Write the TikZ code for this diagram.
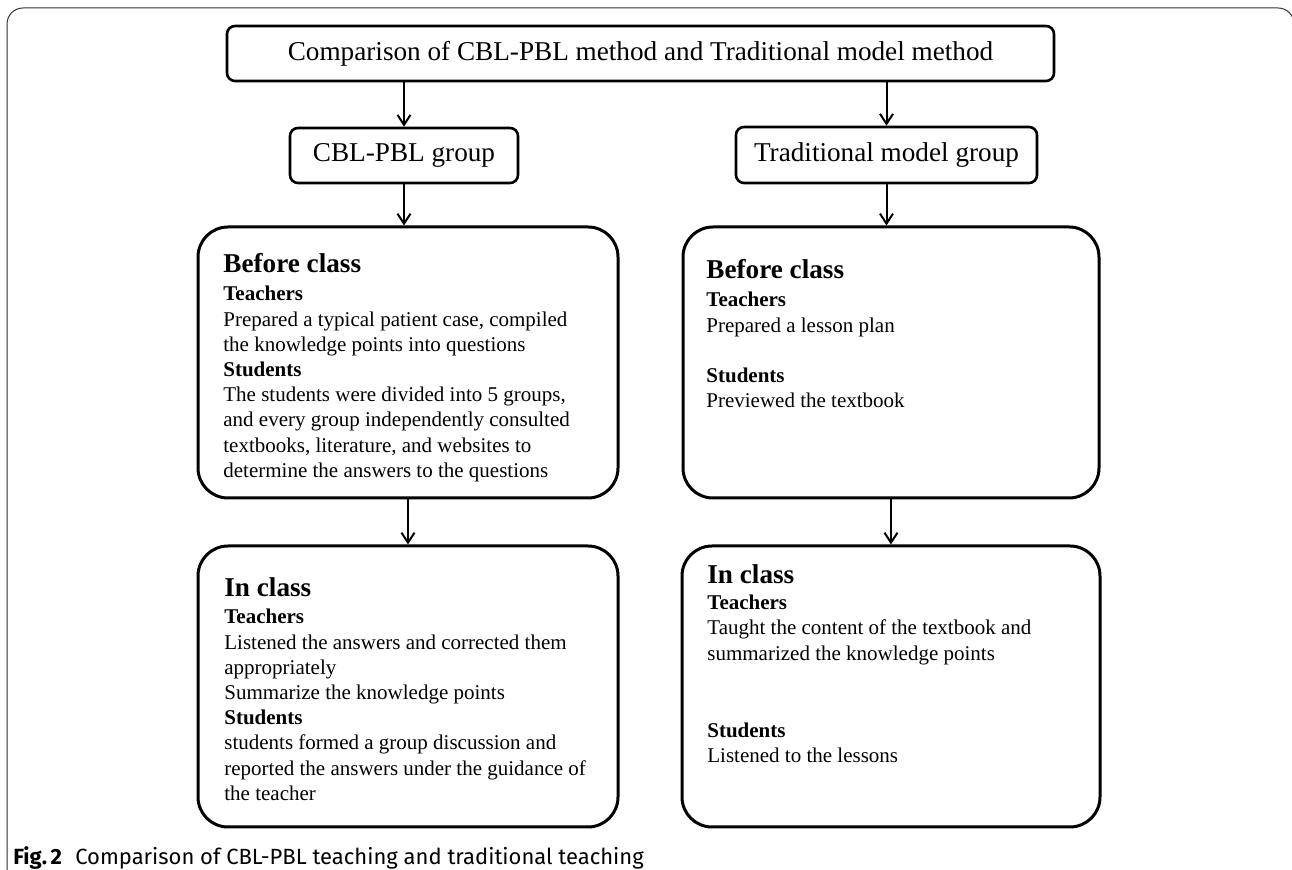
\documentclass[tikz,border=0pt]{standalone}
\usepackage{fontspec}
\setmainfont{Liberation Serif}
\newfontfamily\capfont{Fira Sans}
\usetikzlibrary{arrows.meta}

\newcommand{\bodyfont}{\fontsize{10.5}{12.6}\selectfont}
\newcommand{\phase}[1]{{\fontsize{13.6}{14}\selectfont\bfseries #1}}

\begin{document}
\begin{tikzpicture}[
  x=0.5pt, y=-0.5pt,
  headbox/.style={draw, line width=1.3pt, rounded corners=4pt, inner sep=0pt,
    font=\fontsize{13.6}{16}\selectfont},
  stagebox/.style={draw, line width=1.5pt, rounded corners=15pt, inner sep=0pt},
  body/.style={anchor=north west, align=left, inner sep=0pt, font=\bodyfont},
  arrow/.style={-{Straight Barb[length=5pt, width=6.5pt]}, line width=1pt},
  frame/.style={draw=black!80, line width=0.5pt, rounded corners=8pt},
]
\useasboundingbox (0,0) rectangle (1292,870);

% outer figure frame, runs off the bottom and right edges
\draw[frame] (7,900) -- (7,8) -- (1294,8) -- (1294,900);

% top and group boxes
\node[headbox, minimum width=413.5pt, minimum height=27.5pt] (title) at (640.5,53.5)
  {Comparison of CBL-PBL method and Traditional model method};
\node[headbox, minimum width=114pt, minimum height=27.5pt] (cbl) at (404,155.5) {CBL-PBL group};
\node[headbox, minimum width=150.5pt, minimum height=28pt] (trad) at (886.5,155) {Traditional model group};

% stage boxes, text is set separately
\node[stagebox, minimum width=210pt, minimum height=135.5pt] (cblbefore) at (408,362.5) {};
\node[stagebox, minimum width=208pt, minimum height=135.5pt] (tradbefore) at (891,362.5) {};
\node[stagebox, minimum width=210pt, minimum height=140.5pt] (cblin) at (408,686.5) {};
\node[stagebox, minimum width=209pt, minimum height=140.5pt] (tradin) at (891,686.5) {};

\node[body] (cblbeforetext) at (223,253.4) {\phase{Before class}\\[1.4pt]
  \textbf{Teachers}\\
  Prepared a typical patient case, compiled\\
  the knowledge points into questions\\
  \textbf{Students}\\
  The students were divided into 5 groups,\\
  and every group independently consulted\\
  textbooks, literature, and websites to\\
  determine the answers to the questions};

\node[body] (tradbeforetext) at (706,259.4) {\phase{Before class}\\[1.4pt]
  \textbf{Teachers}\\
  Prepared a lesson plan\\[12.6pt]
  \textbf{Students}\\
  Previewed the textbook};

\node[body] (cblintext) at (224,577.4) {\phase{In class}\\[1pt]
  \textbf{Teachers}\\
  Listened the answers and corrected them\\
  appropriately\\
  Summarize the knowledge points\\
  \textbf{Students}\\
  students formed a group discussion and\\
  reported the answers under the guidance of\\
  the teacher};

\node[body] (tradintext) at (707,564.4) {\phase{In class}\\[0.4pt]
  \textbf{Teachers}\\
  Taught the content of the textbook and\\
  summarized the knowledge points\\[25.9pt]
  \textbf{Students}\\
  Listened to the lessons};

% connectors
\draw[arrow] (cbl.north |- title.south) -- (cbl.north);
\draw[arrow] (trad.north |- title.south) -- (trad.north);
\draw[arrow] (cbl.south) -- (cbl.south |- cblbefore.north);
\draw[arrow] (trad.south) -- (trad.south |- tradbefore.north);
\draw[arrow] (cblbefore.south) -- (cblin.north);
\draw[arrow] (tradbefore.south) -- (tradin.north);

% caption
\node[anchor=base west, inner sep=0pt, font=\capfont\fontsize{11}{13}\selectfont] (caption) at (13,865)
  {\textbf{Fig.\,2}\hspace{0.6em}Comparison of CBL-PBL teaching and traditional teaching};
\end{tikzpicture}
\end{document}
